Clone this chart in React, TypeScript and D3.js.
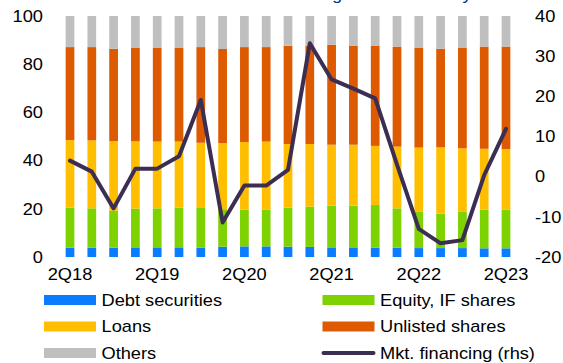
import React from "react";
import * as d3 from "d3";

const quarters = [
  "2Q18", "3Q18", "4Q18", "1Q19", "2Q19", "3Q19", "4Q19", "1Q20", "2Q20", "3Q20", "4Q20",
  "1Q21", "2Q21", "3Q21", "4Q21", "1Q22", "2Q22", "3Q22", "4Q22", "1Q23", "2Q23",
];
const tickQuarters = ["2Q18", "2Q19", "2Q20", "2Q21", "2Q22", "2Q23"];
const leftTicks = [0, 20, 40, 60, 80, 100];
const rightTicks = [-20, -10, 0, 10, 20, 30, 40];

const debtSecurities = [3.9, 3.9, 3.9, 4.0, 4.0, 4.0, 3.9, 4.3, 4.4, 4.4, 4.3, 4.2, 4.0, 4.0, 3.9, 3.9, 3.7, 3.7, 3.7, 3.6, 3.6];
const equityIF = [16.6, 16.3, 15.3, 16.1, 16.2, 16.5, 16.7, 15.5, 15.2, 15.3, 16.2, 16.7, 17.3, 17.3, 17.7, 16.3, 15.0, 14.3, 15.0, 16.0, 16.0];
const loans = [28.0, 28.2, 28.9, 27.9, 27.7, 27.4, 26.8, 27.5, 28.1, 28.2, 26.4, 26.0, 25.3, 25.3, 24.5, 25.6, 26.7, 27.5, 26.4, 25.3, 25.2];
const unlistedShares = [38.6, 38.7, 38.3, 38.9, 39.0, 39.0, 39.7, 39.0, 39.4, 39.2, 40.7, 40.8, 41.5, 41.1, 41.6, 41.5, 41.5, 40.9, 41.8, 42.4, 42.5];
const others = [12.9, 12.9, 13.6, 13.1, 13.1, 13.1, 12.9, 13.7, 12.9, 12.9, 12.4, 12.3, 11.9, 12.3, 12.3, 12.7, 13.1, 13.6, 13.1, 12.7, 12.7];
const mktFinancing = [4.0, 1.25, -7.9, 2.0, 2.0, 5.1, 19.1, -11.4, -2.2, -2.2, 1.7, 33.2, 24.2, 21.9, 19.5, 3.0, -13.0, -16.6, -15.8, 0.4, 11.9];

const seriesNames = ["Debt securities", "Equity, IF shares", "Loans", "Unlisted shares", "Others"];
const seriesColors = ["#0A7CFF", "#7DD200", "#FFBF00", "#DD5A00", "#BFBFBF"];
const lineColor = "#3C2D52";

const W = 563;
const H = 363;
const FONT = "'Liberation Sans', Arial, sans-serif";
const SX = 1.14;

export default function App() {
  const x = d3.scaleBand<string>().domain(quarters).range([59.1, 516.9]).paddingInner(0.6).paddingOuter(0.3);
  const yL = d3.scaleLinear().domain([0, 100]).range([257, 16]);
  const yR = d3.scaleLinear().domain([-20, 40]).range([257, 16]);

  const table = quarters.map((q, i) => ({
    q,
    "Debt securities": debtSecurities[i],
    "Equity, IF shares": equityIF[i],
    Loans: loans[i],
    "Unlisted shares": unlistedShares[i],
    Others: others[i],
  }));
  const stacked = d3.stack<any>().keys(seriesNames)(table);

  const line = d3
    .line<number>()
    .x((_, i) => (x(quarters[i]) as number) + x.bandwidth() / 2)
    .y((d) => yR(d));

  const txt = (key: string, tx: number, ty: number, s: string, anchor: string, fill = "#000") => (
    <text
      key={key}
      transform={`translate(${tx},${ty}) scale(${SX},1)`}
      textAnchor={anchor}
      fontFamily={FONT}
      fontSize={16}
      fill={fill}
    >
      {s}
    </text>
  );

  const legend = [
    { name: "Debt securities", col: 0, row: 0, color: seriesColors[0] },
    { name: "Equity, IF shares", col: 1, row: 0, color: seriesColors[1] },
    { name: "Loans", col: 0, row: 1, color: seriesColors[2] },
    { name: "Unlisted shares", col: 1, row: 1, color: seriesColors[3] },
    { name: "Others", col: 0, row: 2, color: seriesColors[4] },
    { name: "Mkt. financing (rhs)", col: 1, row: 2, color: lineColor, isLine: true },
  ];
  const colX = [44, 322.5];
  const rowY = [295, 321.5, 348];

  return (
    <svg width={W} height={H} style={{ position: "absolute", left: 0, top: 0, background: "#fff" }}>
      {txt("title", 263, 0, "Financing of the economy", "start", "#003299")}
      {stacked.map((s, si) => (
        <g key={s.key} fill={seriesColors[si]}>
          {s.map((d, i) => (
            <rect
              key={i}
              x={x(quarters[i])}
              width={x.bandwidth()}
              y={yL(d[1])}
              height={yL(d[0]) - yL(d[1])}
            />
          ))}
        </g>
      ))}
      <path d={line(mktFinancing) || ""} fill="none" stroke={lineColor} strokeWidth={4} strokeLinejoin="round" strokeLinecap="round" />
      {leftTicks.map((t) => txt("l" + t, 43, yL(t) + 5.8, String(t), "end"))}
      {rightTicks.map((t) => txt("r" + t, 535, yR(t) + 5.8, String(t), "start"))}
      {tickQuarters.map((q) => txt("x" + q, (x(q) as number) + x.bandwidth() / 2, 279.5, q, "middle"))}
      {legend.map((l) => (
        <g key={l.name}>
          {l.isLine ? (
            <line
              x1={colX[l.col] + 1}
              x2={colX[l.col] + 51}
              y1={rowY[l.row] + 5}
              y2={rowY[l.row] + 5}
              stroke={l.color}
              strokeWidth={4}
              strokeLinecap="round"
            />
          ) : (
            <rect x={colX[l.col]} y={rowY[l.row]} width={52} height={10} fill={l.color} />
          )}
          {txt("lg" + l.name, colX[l.col] + 57.5, rowY[l.row] + 10.7, l.name, "start")}
        </g>
      ))}
    </svg>
  );
}
